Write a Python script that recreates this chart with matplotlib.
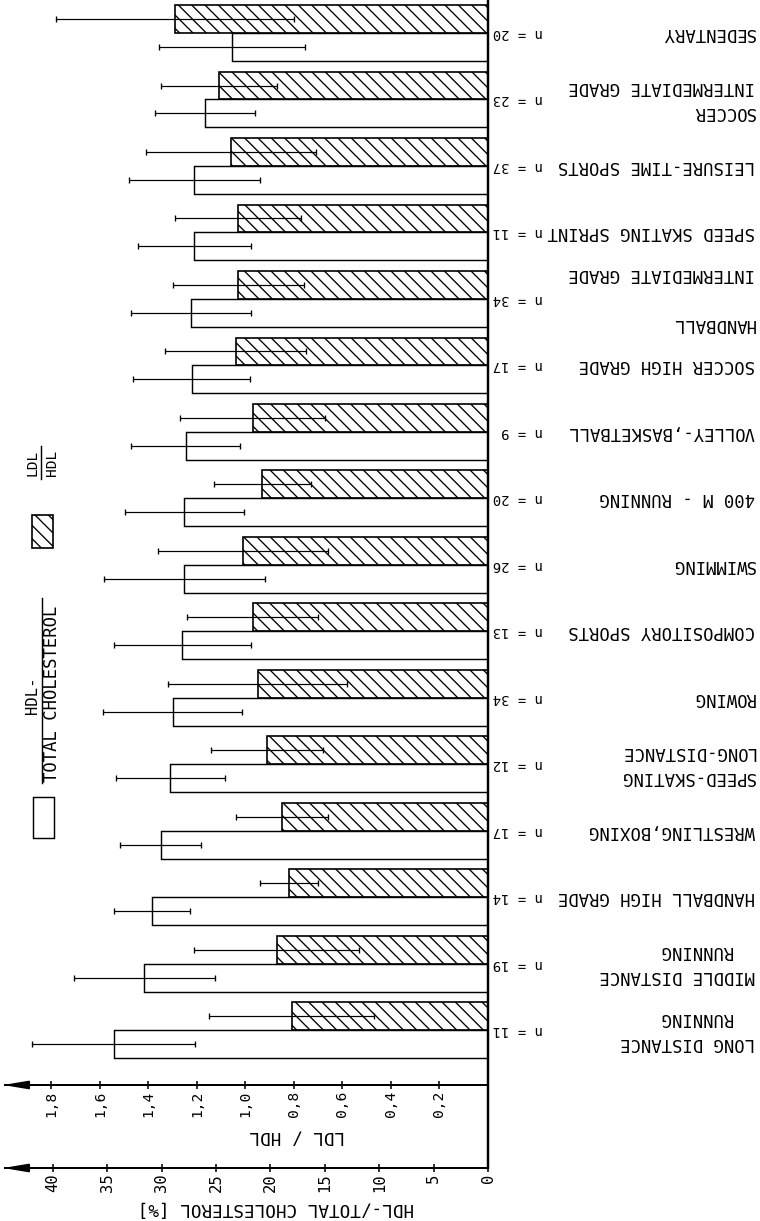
import numpy as np
import matplotlib.pyplot as plt
import matplotlib.transforms as mtransforms
from matplotlib.patches import Rectangle

plt.rcParams['font.family'] = ['DejaVu Sans Mono', 'DejaVu Sans']
plt.rcParams['hatch.linewidth'] = 1.2

# sports groups, listed top to bottom as drawn
groups = [
    "SEDENTARY",
    "SOCCER\nINTERMEDIATE GRADE",
    "LEISURE-TIME SPORTS",
    "SPEED SKATING SPRINT",
    "HANDBALL\n\nINTERMEDIATE GRADE",
    "SOCCER HIGH GRADE",
    "VOLLEY-,BASKETBALL",
    "400 M - RUNNING",
    "SWIMMING",
    "COMPOSITORY SPORTS",
    "ROWING",
    "SPEED-SKATING\nLONG-DISTANCE",
    "WRESTLING,BOXING",
    "HANDBALL HIGH GRADE",
    "MIDDLE DISTANCE\n  RUNNING",
    "LONG DISTANCE\n  RUNNING",
]
n_subjects = [20, 23, 37, 11, 34, 17, 9, 20, 26, 13, 34, 12, 17, 14, 19, 11]

# HDL / total cholesterol [%] : mean and SD
hdl_total = [23.5, 26.0, 27.0, 27.0, 27.3, 27.25, 27.8, 27.9,
             27.9, 28.1, 29.0, 29.2, 30.1, 30.9, 31.6, 34.4]
hdl_total_sd = [6.7, 4.6, 6.0, 5.2, 5.5, 5.4, 5.0, 5.5,
                7.4, 6.3, 6.4, 5.0, 3.7, 3.5, 6.5, 7.5]

# LDL / HDL ratio : mean and SD
ldl_hdl = [1.29, 1.11, 1.06, 1.03, 1.03, 1.04, 0.97, 0.93,
           1.01, 0.97, 0.95, 0.91, 0.85, 0.82, 0.87, 0.81]
ldl_hdl_sd = [0.49, 0.24, 0.35, 0.26, 0.27, 0.29, 0.30, 0.20,
              0.35, 0.27, 0.37, 0.23, 0.19, 0.12, 0.34, 0.34]

pct_ticks = [0, 5, 10, 15, 20, 25, 30, 35, 40]
ratio_ticks = [0.2, 0.4, 0.6, 0.8, 1.0, 1.2, 1.4, 1.6, 1.8]

# one LDL/HDL unit is drawn as this many percent on the shared axis
LDL_SCALE = 22.3
HATCH = '\\\\'

W, H = 760, 1221
fig = plt.figure(figsize=(W / 80, H / 80), dpi=80)

# overlay in pixel units for the hand-placed texts and legend
frame = fig.add_axes([0, 0, 1, 1])
frame.set_xlim(0, W)
frame.set_ylim(H, 0)
frame.axis('off')

ax = fig.add_axes([5 / W, 1 - 1168 / H, 483 / W, 1168 / H])
ax.set_facecolor('none')
ax.set_xlim(44.4, 0)
ax.set_ylim(len(groups) + 1.07, -0.496)

y = np.arange(len(groups))
h = 0.42
ldl_pct = np.array(ldl_hdl) * LDL_SCALE
ldl_sd_pct = np.array(ldl_hdl_sd) * LDL_SCALE

ax.barh(y - h / 2, ldl_pct, height=h, color='white', edgecolor='black',
        hatch=HATCH, linewidth=1.5, zorder=2)
ax.barh(y + h / 2, hdl_total, height=h, color='white', edgecolor='black',
        linewidth=1.3, zorder=2)
ax.errorbar(ldl_pct, y - h / 2, xerr=ldl_sd_pct, fmt='none', ecolor='black',
            elinewidth=1.1, capsize=3, capthick=1.2, zorder=3)
ax.errorbar(hdl_total, y + h / 2, xerr=hdl_total_sd, fmt='none', ecolor='black',
            elinewidth=1.1, capsize=3, capthick=1.2, zorder=3)

for side in ['left', 'top']:
    ax.spines[side].set_visible(False)
ax.spines['right'].set_linewidth(2.2)
ax.spines['bottom'].set_linewidth(1.8)
ax.set_yticks([])
ax.set_xticks(pct_ticks)
ax.set_xticklabels([str(t) for t in pct_ticks])
ax.tick_params(axis='x', direction='inout', length=8, width=1.4,
               labelrotation=90, labelsize=14, pad=1)

sec = ax.secondary_xaxis((1168 - 1085) / 1168,
                         functions=(lambda p: p / LDL_SCALE, lambda r: r * LDL_SCALE))
sec.set_xticks(ratio_ticks)
sec.set_xticklabels([f"{t:.1f}".replace('.', ',') for t in ratio_ticks])
sec.spines['bottom'].set_linewidth(1.8)
sec.tick_params(axis='x', direction='inout', length=8, width=1.4,
                labelrotation=90, labelsize=13, pad=1)

# arrow heads at the left end of both value axes
for yy in [1085, 1168]:
    frame.annotate('', xy=(3, yy), xytext=(30, yy),
                   arrowprops=dict(arrowstyle='-|>,head_length=1.8,head_width=0.3',
                                   color='black', lw=1.8, shrinkA=0, shrinkB=0,
                                   mutation_scale=10))

# axis titles
frame.text(297, 1137, "LDL / HDL", rotation=180, ha='center', va='center', fontsize=16)
frame.text(276, 1208, "HDL-/TOTAL CHOLESTEROL [%]", rotation=180, ha='center',
           va='center', fontsize=16)

# group labels and sample sizes
trans = mtransforms.blended_transform_factory(frame.transData, ax.transData)
for i, (name, n) in enumerate(zip(groups, n_subjects)):
    ax.text(755, i, name, transform=trans, rotation=180, ha='right', va='center',
            multialignment='left', linespacing=1.5, fontsize=15.5, clip_on=False)
    ax.text(543, i, f"n = {n}", transform=trans, rotation=180, ha='right',
            va='center', fontsize=12.5, clip_on=False)

# legend
frame.add_patch(Rectangle((32, 515), 21, 33, facecolor='white', edgecolor='black',
                          hatch=HATCH, linewidth=1.5))
frame.add_patch(Rectangle((33, 797), 21, 41, facecolor='white', edgecolor='black',
                          linewidth=1.3))
frame.text(33, 463, "LDL", rotation=90, ha='center', va='center', fontsize=13)
frame.plot([41, 41], [446, 479], color='black', lw=1.3)
frame.text(52, 463, "HDL", rotation=90, ha='center', va='center', fontsize=13)
frame.text(33, 695, "HDL-", rotation=90, ha='center', va='center', fontsize=14)
frame.plot([42, 42], [598, 783], color='black', lw=1.3)
frame.text(52, 694, "TOTAL CHOLESTEROL", rotation=90, ha='center', va='center',
           fontsize=15.5)

fig.savefig('out.png', dpi=80, facecolor='white')
